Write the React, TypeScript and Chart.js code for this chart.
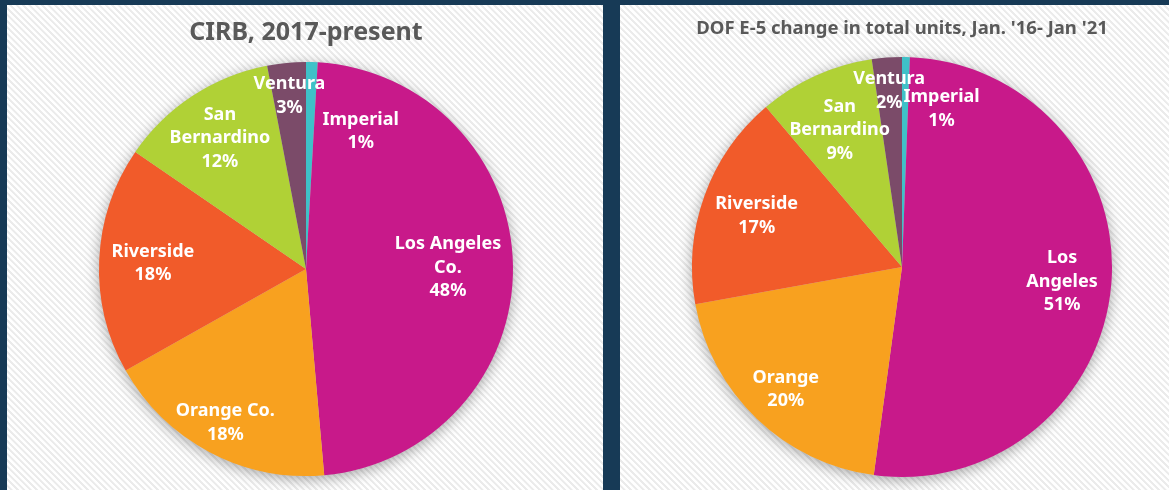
import React, { useEffect, useRef } from "react";
import { Chart, ArcElement, PieController } from "chart.js";

Chart.register(ArcElement, PieController);

// ---- data ----
const LEFT_TITLE = "CIRB, 2017-present";
const LEFT_CATEGORIES = ["Imperial", "Los Angeles\nCo.", "Orange Co.", "Riverside", "San\nBernardino", "Ventura"];
const LEFT_VALUES = [0.9, 47.6, 18.2, 17.7, 12.4, 3.0];

const RIGHT_TITLE = "DOF E-5 change in total units, Jan. '16- Jan '21";
const RIGHT_CATEGORIES = ["Imperial", "Los\nAngeles", "Orange", "Riverside", "San\nBernardino", "Ventura"];
const RIGHT_VALUES = [0.6, 51.49, 20.0, 16.6, 8.9, 2.3];

// ---- style ----
const COLORS = ["#3FC1C8", "#C8198A", "#F8A11F", "#F15B2A", "#B0D136", "#7B4B69"];
const LEFT_LABEL_RADIUS = [0.72, 0.686, 0.836, 0.74, 0.76, 0.845];
const LEFT_LABEL_SHIFT = [19.9, 0, 0, 0, 0, 0];
const RIGHT_LABEL_RADIUS = [0.78, 0.765, 0.8, 0.735, 0.72, 0.845];
const RIGHT_LABEL_SHIFT = [12.9, 0, 0, 0, 0, 0];
const FONT = "'Noto Sans', 'Open Sans', sans-serif";

type PanelProps = {
  title: string;
  titleSize: number;
  titleBaseline: number;
  categories: string[];
  values: number[];
  labelRadius: number[];
  labelShift: number[];
  padding: { left: number; right: number; top: number; bottom: number };
  width: number;
  height: number;
};

function PiePanel(p: PanelProps) {
  const ref = useRef<HTMLCanvasElement | null>(null);
  useEffect(() => {
    if (!ref.current) return;
    const shadowPlugin = {
      id: "pieShadow",
      beforeDatasetsDraw(chart: any) {
        const arc = chart.getDatasetMeta(0).data[0];
        if (!arc) return;
        const ctx = chart.ctx;
        ctx.save();
        ctx.shadowColor = "rgba(0,0,0,0.35)";
        ctx.shadowBlur = 14;
        ctx.shadowOffsetY = 3;
        ctx.beginPath();
        ctx.arc(arc.x, arc.y, arc.outerRadius, 0, Math.PI * 2);
        ctx.fillStyle = "#ccc";
        ctx.fill();
        ctx.restore();
      },
    };
    const labelPlugin = {
      id: "pieLabels",
      afterDatasetsDraw(chart: any) {
        const ctx = chart.ctx;
        const meta = chart.getDatasetMeta(0);
        ctx.save();
        ctx.fillStyle = "#ffffff";
        ctx.font = `bold 18px ${FONT}`;
        ctx.textAlign = "center";
        ctx.textBaseline = "middle";
        const lh = 23.5;
        meta.data.forEach((arc: any, i: number) => {
          const mid = (arc.startAngle + arc.endAngle) / 2 + (p.labelShift[i] * Math.PI) / 180;
          const r = arc.outerRadius * p.labelRadius[i];
          const cx = arc.x + Math.cos(mid) * r;
          const cy = arc.y + Math.sin(mid) * r;
          const lines = p.categories[i].split("\n").concat([Math.round(p.values[i]) + "%"]);
          const y0 = cy - ((lines.length - 1) * lh) / 2;
          lines.forEach((t, k) => ctx.fillText(t, cx, y0 + k * lh + 1));
        });
        ctx.restore();
      },
    };
    const titlePlugin = {
      id: "panelTitle",
      afterDraw(chart: any) {
        const ctx = chart.ctx;
        const arc = chart.getDatasetMeta(0).data[0];
        ctx.save();
        ctx.fillStyle = "#595959";
        ctx.font = `bold ${p.titleSize}px ${FONT}`;
        ctx.textAlign = "center";
        ctx.textBaseline = "alphabetic";
        ctx.fillText(p.title, arc ? arc.x : chart.width / 2, p.titleBaseline);
        ctx.restore();
      },
    };
    const chart = new Chart(ref.current, {
      type: "pie",
      data: {
        labels: p.categories,
        datasets: [
          {
            data: p.values,
            backgroundColor: COLORS,
            borderWidth: 0,
            hoverBorderWidth: 0,
            hoverOffset: 0,
          },
        ],
      },
      options: {
        responsive: false,
        maintainAspectRatio: false,
        animation: false,
        events: [],
        rotation: 0,
        layout: { padding: p.padding },
        plugins: { legend: { display: false }, tooltip: { enabled: false } },
      } as any,
      plugins: [shadowPlugin, labelPlugin, titlePlugin],
    });
    return () => chart.destroy();
  }, []);
  return <canvas ref={ref} width={p.width} height={p.height} style={{ width: p.width, height: p.height, display: "block" }} />;
}

const panelBg =
  "repeating-linear-gradient(45deg, #ffffff 0px, #ffffff 2px, #ebebeb 2.5px, #ebebeb 4px, #ffffff 4.5px)";

export default function App() {
  return (
    <div style={{ position: "absolute", left: 0, top: 0, width: 1169, height: 490, background: "#173A56", overflow: "hidden" }}>
      <div style={{ position: "absolute", left: 7, top: 5, width: 596, height: 485, background: panelBg }}>
        <PiePanel
          title={LEFT_TITLE}
          titleSize={25}
          titleBaseline={35}
          categories={LEFT_CATEGORIES}
          values={LEFT_VALUES}
          labelRadius={LEFT_LABEL_RADIUS}
          labelShift={LEFT_LABEL_SHIFT}
          padding={{ left: 92, right: 90, top: 57, bottom: 14 }}
          width={596}
          height={485}
        />
      </div>
      <div style={{ position: "absolute", left: 620, top: 5, width: 549, height: 485, background: panelBg }}>
        <PiePanel
          title={RIGHT_TITLE}
          titleSize={18.5}
          titleBaseline={29}
          categories={RIGHT_CATEGORIES}
          values={RIGHT_VALUES}
          labelRadius={RIGHT_LABEL_RADIUS}
          labelShift={RIGHT_LABEL_SHIFT}
          padding={{ left: 72, right: 57, top: 52, bottom: 13 }}
          width={549}
          height={485}
        />
      </div>
    </div>
  );
}
